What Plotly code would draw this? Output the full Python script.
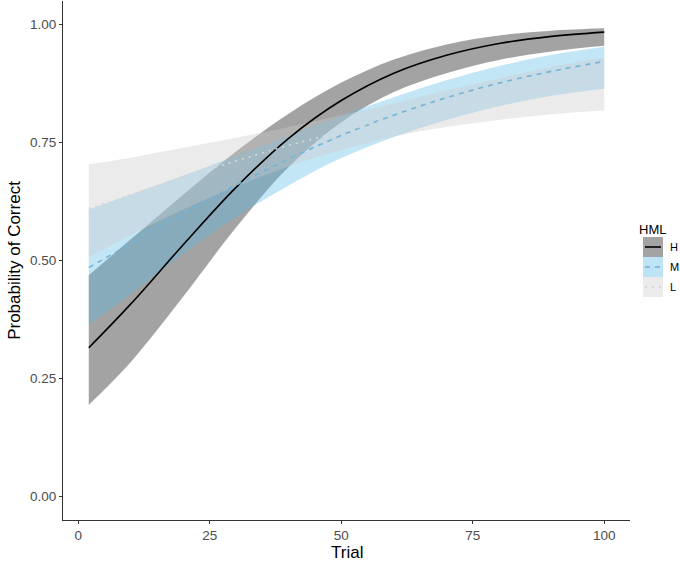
import plotly.graph_objects as go

# ---- data ----
trial = [2, 10, 20, 30, 40, 50, 60, 70, 80, 90, 100]

h_fit   = [0.315, 0.408, 0.534, 0.655, 0.759, 0.839, 0.897, 0.935, 0.960, 0.975, 0.984]
h_lower = [0.194, 0.285, 0.424, 0.570, 0.698, 0.793, 0.857, 0.897, 0.925, 0.943, 0.955]
h_upper = [0.469, 0.545, 0.640, 0.731, 0.811, 0.877, 0.926, 0.958, 0.977, 0.987, 0.992]

m_fit   = [0.485, 0.536, 0.600, 0.660, 0.715, 0.765, 0.808, 0.845, 0.876, 0.901, 0.922]
m_lower = [0.364, 0.429, 0.514, 0.592, 0.659, 0.717, 0.762, 0.798, 0.827, 0.849, 0.864]
m_upper = [0.608, 0.640, 0.680, 0.722, 0.765, 0.807, 0.846, 0.882, 0.912, 0.936, 0.953]

l_fit   = [0.610, 0.640, 0.677, 0.711, 0.744, 0.773, 0.801, 0.825, 0.848, 0.867, 0.885]
l_lower = [0.507, 0.554, 0.608, 0.657, 0.699, 0.734, 0.763, 0.783, 0.798, 0.810, 0.818]
l_upper = [0.704, 0.718, 0.739, 0.760, 0.783, 0.808, 0.833, 0.861, 0.886, 0.910, 0.930]

groups = ["H", "M", "L"]
y_ticks = [0.0, 0.25, 0.5, 0.75, 1.0]
y_tick_text = ["0.00", "0.25", "0.50", "0.75", "1.00"]
x_ticks = [0, 25, 50, 75, 100]

# ---- styles ----
fills = {"H": "rgba(0,0,0,0.36)", "M": "rgba(90,185,230,0.36)", "L": "rgba(203,203,203,0.38)"}
key_fills = {"H": "#a3a3a3", "M": "#bde3f5", "L": "#ebebeb"}
line_col = {"H": "#000000", "M": "#74b3d8", "L": "#d8d8d8"}
line_dash = {"H": "solid", "M": "5px,5px", "L": "2px,5px"}

data = {
    "H": (h_fit, h_lower, h_upper),
    "M": (m_fit, m_lower, m_upper),
    "L": (l_fit, l_lower, l_upper),
}

fig = go.Figure()

# ribbons
for g in groups:
    fit, lo, up = data[g]
    fig.add_trace(go.Scatter(x=trial, y=lo, mode="lines", line=dict(width=0, shape="spline"),
                             showlegend=False, hoverinfo="skip"))
    fig.add_trace(go.Scatter(x=trial, y=up, mode="lines", line=dict(width=0, shape="spline"),
                             fill="tonexty", fillcolor=fills[g], showlegend=False, hoverinfo="skip"))

# fitted lines
for g in groups:
    fit, lo, up = data[g]
    fig.add_trace(go.Scatter(x=trial, y=fit, mode="lines", name=g,
                             line=dict(color=line_col[g], width=1.6, dash=line_dash[g], shape="spline"),
                             showlegend=False))

# ---- layout ----
L_M, R_M, T_M, B_M = 63, 50, 1, 41
W, H = 680, 561
pw, ph = W - L_M - R_M, H - T_M - B_M

def px_x(px):
    return (px - L_M) / pw

def px_y(py):
    return (H - B_M - py) / ph

axis_common = dict(showgrid=False, zeroline=False, showline=True, linecolor="#333333", linewidth=1.1,
                   ticks="outside", ticklen=3, tickcolor="#333333", tickwidth=1,
                   tickfont=dict(family="Liberation Sans, Arial, sans-serif", size=13.5, color="#4d4d4d"),
                   mirror=False, automargin=False)

fig.update_layout(
    width=W, height=H,
    margin=dict(l=L_M, r=R_M, t=T_M, b=B_M),
    paper_bgcolor="white", plot_bgcolor="white",
    font=dict(family="Liberation Sans, Arial, sans-serif"),
    xaxis=dict(range=[-2.9, 104.9], tickvals=x_ticks, ticktext=[str(v) for v in x_ticks], **axis_common),
    yaxis=dict(range=[-0.05, 1.05], tickvals=y_ticks, ticktext=y_tick_text,
               title=dict(text="Probability of Correct", font=dict(size=17, color="black"), standoff=5),
               **axis_common),
    showlegend=False,
)

# ---- x-axis title and manual ggplot-style legend ----
shapes = []
annotations = []
annotations.append(dict(x=0.5, y=px_y(552), xref="paper", yref="paper", text="Trial",
                        showarrow=False, xanchor="center", yanchor="middle",
                        font=dict(size=17, color="black")))
annotations.append(dict(x=px_x(637), y=px_y(229), xref="paper", yref="paper", text="HML",
                        showarrow=False, xanchor="left", yanchor="middle",
                        font=dict(size=13, color="black")))
key_tops = [237, 257, 277]
for g, top in zip(groups, key_tops):
    x0, x1 = px_x(643), px_x(663)
    y0, y1 = px_y(top + 20), px_y(top)
    shapes.append(dict(type="rect", xref="paper", yref="paper", x0=x0, x1=x1, y0=y0, y1=y1,
                       fillcolor=key_fills[g], line=dict(width=0), layer="above"))
    ym = px_y(top + 10)
    shapes.append(dict(type="line", xref="paper", yref="paper", x0=px_x(645), x1=px_x(661), y0=ym, y1=ym,
                       line=dict(color=line_col[g] if g != "L" else "#cfcfcf", width=1.6,
                                 dash=line_dash[g]), layer="above"))
    annotations.append(dict(x=px_x(668), y=ym, xref="paper", yref="paper", text=g, showarrow=False,
                            xanchor="left", yanchor="middle", font=dict(size=11, color="black")))

fig.update_layout(shapes=shapes, annotations=annotations)

fig.write_html("out.html", config={"displayModeBar": False},
               post_script="document.body.style.margin='0px';document.body.style.overflow='hidden';")
